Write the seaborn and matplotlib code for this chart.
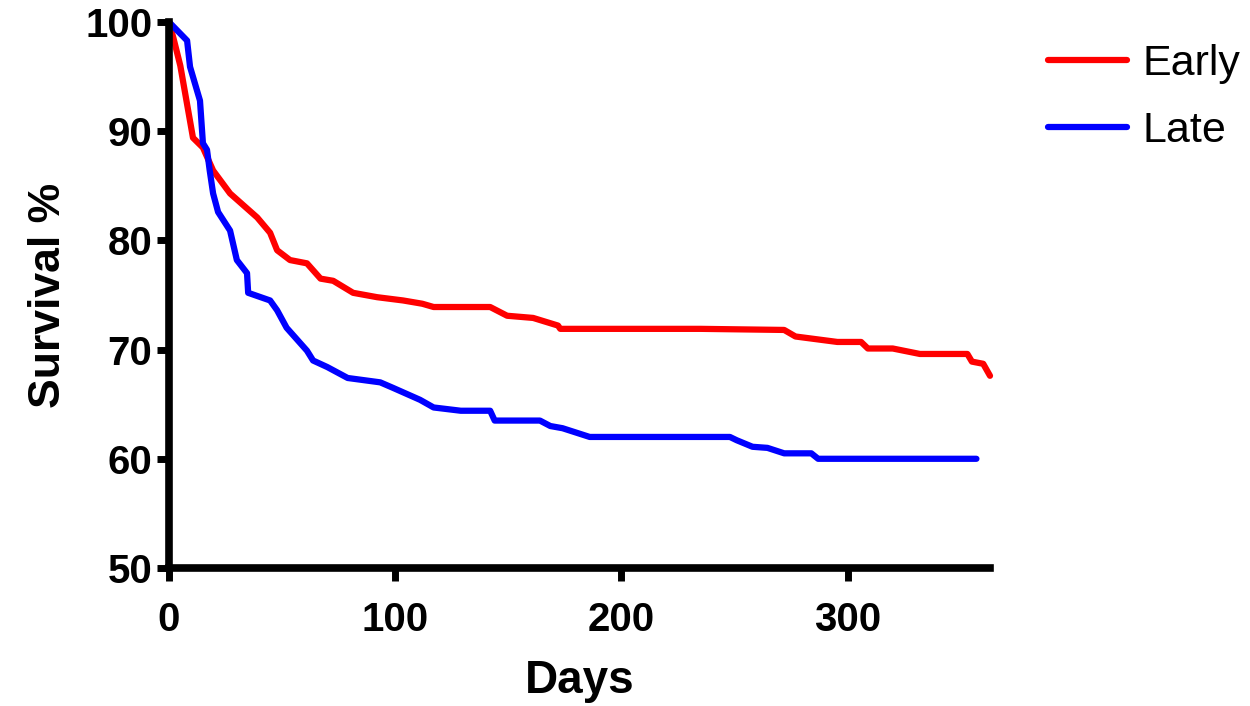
import matplotlib
matplotlib.use("Agg")
import matplotlib.pyplot as plt
from matplotlib.lines import Line2D
import seaborn as sns
import pandas as pd

early_days = [0, 2, 5, 10.6, 15, 19.5, 27, 39, 44.7, 47.8, 53.5, 61, 67, 72.6, 81.4, 92, 103.5,
              112, 117, 129, 142, 149.5, 161, 172, 173, 235, 272, 277, 295.5, 306, 309, 320,
              332, 353, 355, 360, 363]
early_surv = [100, 98.5, 96, 89.4, 88.5, 86.4, 84.3, 82.1, 80.7, 79.1, 78.2, 77.9, 76.5, 76.3, 75.2,
              74.8, 74.5, 74.2, 73.9, 73.9, 73.9, 73.1, 72.9, 72.2, 71.9, 71.9, 71.8, 71.2, 70.7,
              70.7, 70.1, 70.1, 69.6, 69.6, 68.9, 68.7, 67.6]

late_days = [0, 8, 9.3, 13.7, 15, 16.8, 18, 19.5, 21.7, 27, 30, 34.5, 35, 44.7, 47.8, 52, 61, 63.7,
             70, 79, 93.4, 99, 111, 117, 129, 142, 144, 164, 168.6, 174, 186, 248, 251, 258, 264.6,
             272, 284, 287, 357]
late_surv = [100, 98.3, 95.9, 92.8, 88.9, 88.3, 86.4, 84.3, 82.6, 80.9, 78.2, 77.0, 75.2, 74.5, 73.6,
             72.0, 69.9, 69.0, 68.4, 67.4, 67.0, 66.5, 65.4, 64.7, 64.4, 64.4, 63.5, 63.5, 63.0,
             62.8, 62.0, 62.0, 61.7, 61.1, 61.0, 60.5, 60.5, 60.0, 60.0]

groups = ["Early", "Late"]
colors = {"Early": "#ff0000", "Late": "#0000ff"}
x_ticks = [0, 100, 200, 300]
y_ticks = [50, 60, 70, 80, 90, 100]

df = pd.concat([
    pd.DataFrame({"Days": early_days, "Survival": early_surv, "Group": "Early"}),
    pd.DataFrame({"Days": late_days, "Survival": late_surv, "Group": "Late"}),
], ignore_index=True)

sns.set_style("ticks")
plt.rcParams['font.family'] = ['Liberation Sans', 'DejaVu Sans']
plt.rcParams['text.color'] = 'black'
plt.rcParams['axes.labelcolor'] = 'black'
plt.rcParams['xtick.color'] = 'black'
plt.rcParams['ytick.color'] = 'black'

fig = plt.figure(figsize=(12.5, 7.06), dpi=100)
ax = fig.add_axes([0.1352, 0.1955, 0.6568, 0.7733])

sns.lineplot(data=df, x="Days", y="Survival", hue="Group", hue_order=groups,
             palette=colors, estimator=None, sort=False, linewidth=4.5, ax=ax,
             clip_on=False, legend=False)

ax.set_xlim(0, 363)
ax.set_ylim(50, 100)
ax.set_xticks(x_ticks)
ax.set_yticks(y_ticks)
for s in ["top", "right"]:
    ax.spines[s].set_visible(False)
for s in ["left", "bottom"]:
    ax.spines[s].set_linewidth(5.5)
    ax.spines[s].set_color("black")
    ax.spines[s].set_capstyle("projecting")
ax.tick_params(axis="both", direction="out", length=9, width=5, color="black",
               labelcolor="black", bottom=True, left=True)
ax.tick_params(axis="y", pad=3)
ax.tick_params(axis="x", pad=15)
for lab in ax.get_xticklabels() + ax.get_yticklabels():
    lab.set_fontsize(29)
    lab.set_fontweight("bold")
ax.set_xlabel("Days", fontsize=33, fontweight="bold", labelpad=14, color="black")
ax.set_ylabel("Survival %", fontsize=32, fontweight="bold", labelpad=12, color="black")

handles = [Line2D([], [], color=colors[g], linewidth=4.5) for g in groups]
fig.legend(handles, groups, loc="upper left", bbox_to_anchor=(0.8384, 0.9377),
           frameon=False, fontsize=31, handlelength=1.84, handletextpad=0.35,
           labelspacing=0.63, borderpad=0, borderaxespad=0)

fig.savefig("out.png", dpi=100, facecolor="white")
